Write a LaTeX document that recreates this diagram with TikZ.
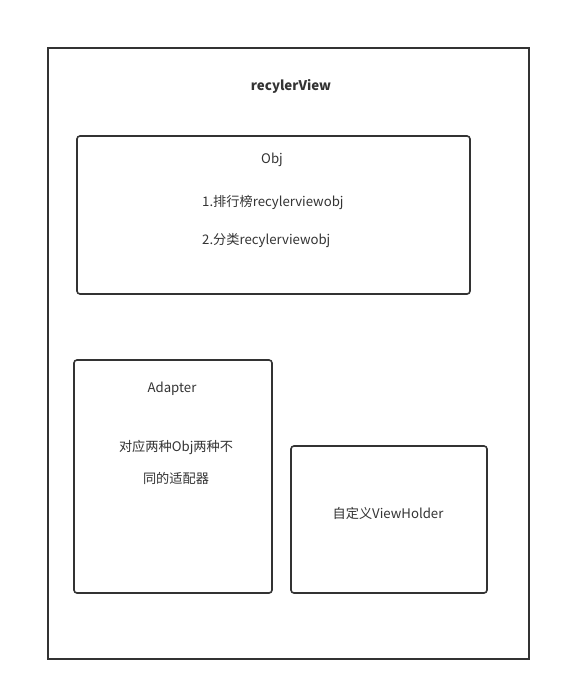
\documentclass[tikz,border=0pt]{standalone}
\usepackage{fontspec}
\setmainfont{Noto Sans CJK SC}
\begin{document}
\begin{tikzpicture}[x=1pt,y=-1pt,
  box/.style={draw=line,line width=1.6pt,rounded corners=3pt},
  outer/.style={draw=line,line width=1.6pt},
  txt/.style={text=line,font=\fontsize{13.2}{15}\selectfont,inner sep=0pt,anchor=center}]
\definecolor{line}{HTML}{333333}
\useasboundingbox (0,0) rectangle (561,691);
\fill[white] (0,0) rectangle (561,691);
\draw[outer] (48,48) rectangle (529,659);
\draw[box] (77,136) rectangle (470,294);
\draw[box] (74,360) rectangle (272,593);
\draw[box] (291,446) rectangle (487,593);
\node[txt,font=\fontsize{13.3}{15}\selectfont\bfseries] (title) at (291,86) {recylerView};
\node[txt] (obj) at (272,160) {Obj};
\node[txt,anchor=west] (o1) at (202,203) {1.排行榜recylerviewobj};
\node[txt,anchor=west] (o2) at (202,241) {2.分类recylerviewobj};
\node[txt] (ad) at (172,389) {Adapter};
\node[txt] (a1) at (176,447) {对应两种Obj两种不};
\node[txt] (a2) at (176,478) {同的适配器};
\node[txt] (vh) at (388,513) {自定义ViewHolder};
\end{tikzpicture}
\end{document}
